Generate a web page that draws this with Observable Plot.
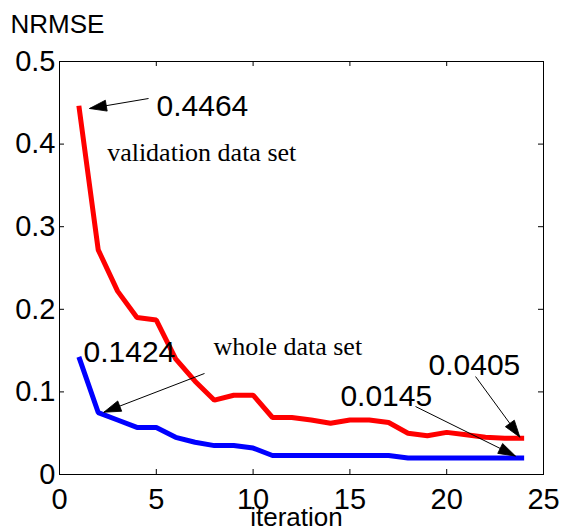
<!DOCTYPE html>
<html>
<head>
<meta charset="utf-8">
<script src="https://cdn.jsdelivr.net/npm/d3@7"></script>
<script src="https://cdn.jsdelivr.net/npm/@observablehq/plot@0.6"></script>
<style>
  html, body { margin: 0; padding: 0; background: #fff; }
  #chart svg { display: block; }
</style>
</head>
<body>
<div id="chart"></div>
<script>
// ---- data ----
const iterations = [1,2,3,4,5,6,7,8,9,10,11,12,13,14,15,16,17,18,19,20,21,22,23,24];
const validation = [0.4464,0.272,0.222,0.19,0.187,0.14,0.113,0.09,0.096,0.096,0.069,0.069,0.066,0.062,0.066,0.066,0.063,0.05,0.047,0.051,0.048,0.045,0.044,0.044];
const whole = [0.1424,0.075,0.066,0.057,0.057,0.045,0.039,0.035,0.035,0.032,0.023,0.023,0.023,0.023,0.023,0.023,0.023,0.02,0.02,0.02,0.02,0.02,0.02,0.02];
const xTicks = [0,5,10,15,20,25];
const xTickLabels = ["0","5","10","15","20","25"];
const yTicks = [0,0.1,0.2,0.3,0.4,0.5];
const yTickLabels = ["0","0.1","0.2","0.3","0.4","0.5"];

// annotations (data units)
const numLabels = ["0.4464","0.1424","0.0405","0.0145"];
const numLabelX = [5.01,1.24,19.06,14.51];
const numLabelY = [0.4346,0.1356,0.1199,0.0835];
const setLabels = ["validation data set","whole data set"];
const setLabelX = [2.46,7.95];
const setLabelY = [0.3793,0.1441];
const arrowX1 = [4.60,7.49,21.49,18.39];
const arrowY1 = [0.4552,0.1223,0.1186,0.0823];
const arrowX2 = [1.55,2.29,23.78,23.55];
const arrowY2 = [0.4431,0.0754,0.0452,0.0224];

const valRows = iterations.map((it,i)=>({iteration: it, value: validation[i]}));
const wholeRows = iterations.map((it,i)=>({iteration: it, value: whole[i]}));
const numRows = numLabels.map((t,i)=>({t, x: numLabelX[i], y: numLabelY[i]}));
const setRows = setLabels.map((t,i)=>({t, x: setLabelX[i], y: setLabelY[i]}));
const arrowRows = arrowX1.map((x1,i)=>({x1, y1: arrowY1[i], x2: arrowX2[i], y2: arrowY2[i]}));

function triMarker(color, ctx) {
  const doc = (ctx && ctx.document) || document;
  const ns = "http://www.w3.org/2000/svg";
  const m = doc.createElementNS(ns, "marker");
  m.setAttribute("viewBox", "-19 -8 20 16");
  m.setAttribute("markerWidth", 20);
  m.setAttribute("markerHeight", 16);
  m.setAttribute("markerUnits", "userSpaceOnUse");
  m.setAttribute("orient", "auto");
  m.setAttribute("refX", 0);
  m.setAttribute("refY", 0);
  const p = doc.createElementNS(ns, "path");
  p.setAttribute("d", "M0,0L-17,-5.5L-17,5.5Z");
  p.setAttribute("fill", color);
  p.setAttribute("stroke", color);
  p.setAttribute("stroke-width", 0.8);
  m.appendChild(p);
  return m;
}

const W = 563, H = 528, ML = 59, MR = 20, MT = 61, MB = 54;
const plotW = W - ML - MR, plotH = H - MT - MB;
const TL = 5;

function build(marker) {
  return Plot.plot({
    width: W, height: H,
    marginLeft: ML, marginRight: MR, marginTop: MT, marginBottom: MB,
    x: {domain: [0,25]},
    y: {domain: [0,0.5]},
    style: {fontFamily: "'Liberation Sans', Arial, sans-serif", background: "#fff", color: "#000", overflow: "visible"},
    marks: [
      Plot.frame({stroke: "#000", strokeWidth: 1}),
      Plot.tickX(xTicks, {x: d => d, insetTop: plotH - TL, stroke: "#000"}),
      Plot.tickX(xTicks, {x: d => d, insetBottom: plotH - TL, stroke: "#000"}),
      Plot.tickY(yTicks, {y: d => d, insetRight: plotW - TL, stroke: "#000"}),
      Plot.tickY(yTicks, {y: d => d, insetLeft: plotW - TL, stroke: "#000"}),
      Plot.axisX({ticks: xTicks, tickSize: 0, tickPadding: 14, fontSize: 29, label: null, tickFormat: (d,i) => xTickLabels[xTicks.indexOf(d)]}),
      Plot.axisY({ticks: yTicks, tickSize: 0, tickPadding: 4, fontSize: 29, label: null, tickFormat: (d,i) => yTickLabels[yTicks.indexOf(d)]}),
      Plot.line(valRows, {x: "iteration", y: "value", stroke: "#ff0000", strokeWidth: 5, strokeLinejoin: "miter", strokeLinecap: "butt"}),
      Plot.line(wholeRows, {x: "iteration", y: "value", stroke: "#0000ff", strokeWidth: 5, strokeLinejoin: "miter", strokeLinecap: "butt"}),
      Plot.link(arrowRows, {x1: "x1", y1: "y1", x2: "x2", y2: "y2", stroke: "#000", strokeWidth: 1, markerEnd: marker}),
      Plot.text(numRows, {x: "x", y: "y", text: "t", textAnchor: "start", lineAnchor: "bottom", fontSize: 30, fill: "#000"}),
      Plot.text(setRows, {x: "x", y: "y", text: "t", textAnchor: "start", lineAnchor: "bottom", fontSize: 26, fontFamily: "'Liberation Serif', 'Times New Roman', serif", fill: "#000"}),
      Plot.text(["NRMSE"], {frameAnchor: "top-left", text: d => d, textAnchor: "start", lineAnchor: "bottom", dx: 10 - ML, dy: 32 - MT, fontSize: 26, fill: "#000"}),
      Plot.text(["iteration"], {frameAnchor: "bottom", text: d => d, textAnchor: "middle", lineAnchor: "bottom", dx: -5, dy: 51, fontSize: 26, fill: "#000"})
    ]
  });
}

let chart;
try { chart = build(triMarker); } catch (e) { chart = build("arrow"); }
document.getElementById("chart").appendChild(chart);
</script>
</body>
</html>
